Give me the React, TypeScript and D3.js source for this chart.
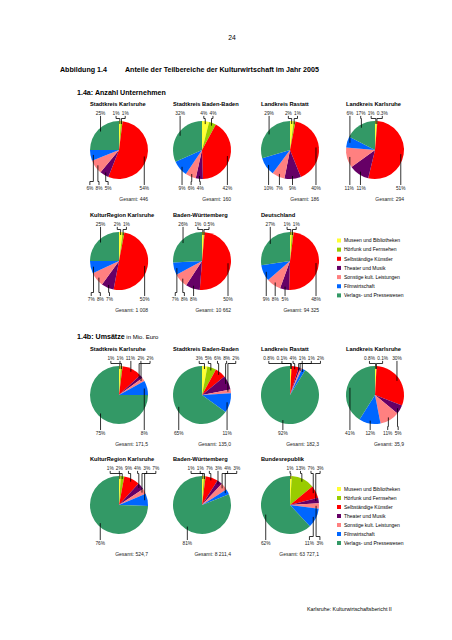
import React from "react";
import * as d3 from "d3";

// ---------- data ----------
const categories = [
  "Museen und Bibliotheken",
  "Hörfunk und Fernsehen",
  "Selbständige Künstler",
  "Theater und Musik",
  "Sonstige kult. Leistungen",
  "Filmwirtschaft",
  "Verlags- und Pressewesen",
];
const categoryColors = ["#FFFF33", "#99CC00", "#FF0000", "#660066", "#FF8080", "#0066FF", "#339966"];

// 1.4a: Anzahl Unternehmen (shares in %, order = categories)
const countRegions = [
  "Stadtkreis Karlsruhe",
  "Stadtkreis Baden-Baden",
  "Landkreis Rastatt",
  "Landkreis Karlsruhe",
  "KulturRegion Karlsruhe",
  "Baden-Württemberg",
  "Deutschland",
];
const countShares = [
  [1, 1, 54, 5, 8, 6, 25],
  [4, 4, 42, 4, 6, 9, 32],
  [2, 1, 40, 9, 7, 10, 29],
  [1, 0.3, 51, 11, 11, 6, 17],
  [2, 1, 50, 7, 8, 7, 25],
  [1, 0.5, 50, 8, 8, 7, 26],
  [1, 1, 48, 5, 8, 9, 27],
];
const countTotals = ["446", "160", "186", "294", "1 008", "10 662", "94 325"];

// 1.4b: Umsätze in Mio. Euro
const salesRegions = [
  "Stadtkreis Karlsruhe",
  "Stadtkreis Baden-Baden",
  "Landkreis Rastatt",
  "Landkreis Karlsruhe",
  "KulturRegion Karlsruhe",
  "Baden-Württemberg",
  "Bundesrepublik",
];
const salesShares = [
  [1, 1, 11, 2, 2, 8, 75],
  [3, 5, 6, 8, 2, 11, 65],
  [0.8, 0.1, 4, 1, 1, 2, 92],
  [0.8, 0.1, 30, 5, 11, 12, 41],
  [1, 2, 9, 4, 3, 7, 76],
  [1, 1, 7, 3, 4, 3, 81],
  [1, 13, 7, 3, 3, 11, 62],
];
const salesTotals = ["171,5", "135,0", "182,3", "35,9", "524,7", "8 211,4", "63 727,1"];

// label placement hints: [chart index, category index] labelled below the pie
const salesLabelsBelow = [
  [0, 5],
  [3, 6],
];

// ---------- layout ----------
const W = 452;
const H = 640;
const R = 29;
const colX = [119, 202, 290, 375];
const countRowsY = [150, 261];
const salesRowsY = [395, 505];
const FONT = "'Liberation Sans', Arial, Helvetica, sans-serif";
const PCT_FS = 4.8;

const charW: Record<string, number> = { ".": 0.278, "%": 0.889 };
function textWidth(t: string, fs: number) {
  let s = 0;
  for (const c of t) s += charW[c] ?? 0.556;
  return s * fs;
}

type Lbl = { i: number; ax: number; ay: number; top: boolean; text: string; w: number; x: number };

function spread(items: Lbl[]) {
  items.sort((a, b) => a.x - b.x);
  for (let it = 0; it < 400; it++) {
    let moved = false;
    for (let k = 0; k < items.length - 1; k++) {
      const a = items[k];
      const b = items[k + 1];
      const need = (a.w + b.w) / 2 + 2.2;
      const d = b.x - a.x;
      if (d < need - 0.01) {
        const s = (need - d) / 2;
        a.x -= s;
        b.x += s;
        moved = true;
      }
    }
    if (!moved) break;
  }
}

function PieChart(props: {
  cx: number;
  cy: number;
  shares: number[];
  title: string;
  total: string;
  below: number[];
}) {
  const { cx, cy, shares, title, total, below } = props;
  const arcs = d3.pie<number>().sort(null).value((d) => d)(shares);
  const arcGen = d3.arc<d3.PieArcDatum<number>>().innerRadius(0).outerRadius(R);

  const labels: Lbl[] = arcs.map((a, i) => {
    const mid = (a.startAngle + a.endAngle) / 2;
    const ax = cx + Math.sin(mid) * R * 0.9;
    const ay = cy - Math.cos(mid) * R * 0.9;
    const top = Math.cos(mid) > 0.11 && !below.includes(i);
    const text = String(shares[i]) + "%";
    return { i, ax, ay, top, text, w: textWidth(text, PCT_FS), x: ax };
  });
  const tops = labels.filter((l) => l.top);
  const bots = labels.filter((l) => !l.top);
  spread(tops);
  spread(bots);

  const topY = cy - R - 6.3;
  const botY = cy + R + 10.5;
  const topElbow = cy - R - 2.5;
  const botElbow = cy + R + 2.5;

  const leader = (l: Lbl) => {
    if (l.top) {
      if (Math.abs(l.x - l.ax) < 0.6) return `M${l.ax},${topY + 1.2}V${l.ay}`;
      return `M${l.x},${topY + 1.2}V${topElbow}H${l.ax}V${l.ay}`;
    }
    if (Math.abs(l.x - l.ax) < 0.6) return `M${l.ax},${botY - 4.5}V${l.ay}`;
    return `M${l.x},${botY - 4.5}V${botElbow}H${l.ax}V${l.ay}`;
  };

  return (
    <g>
      <text x={cx - R} y={cy - R - 15.5} fontSize={5.7} fontWeight="bold" fontFamily={FONT} fill="#000">
        {title}
      </text>
      {arcs.map((a, i) => (
        <path key={i} d={arcGen(a) || ""} transform={`translate(${cx},${cy})`} fill={categoryColors[i]} />
      ))}
      {labels.map((l) => (
        <path key={"l" + l.i} d={leader(l)} fill="none" stroke="#000" strokeWidth={0.8} />
      ))}
      {labels.map((l) => (
        <text
          key={"t" + l.i}
          x={l.x}
          y={l.top ? topY : botY}
          textAnchor="middle"
          fontSize={PCT_FS}
          fontFamily={FONT}
          fill="#222"
        >
          {l.text}
        </text>
      ))}
      <text x={cx + R} y={cy + R + 22} textAnchor="end" fontSize={5} fontFamily={FONT} fill="#222">
        {"Gesamt: " + total}
      </text>
    </g>
  );
}

function Legend(props: { x: number; y0: number; step: number }) {
  const { x, y0, step } = props;
  return (
    <g>
      {categories.map((c, i) => (
        <g key={c}>
          <rect x={x} y={y0 + i * step - 2} width={4} height={4} fill={categoryColors[i]} />
          <text x={x + 7} y={y0 + i * step + 1.8} fontSize={5} fontFamily={FONT} fill="#000">
            {c}
          </text>
        </g>
      ))}
    </g>
  );
}

function positions(rows: number[]) {
  return [
    [colX[0], rows[0]],
    [colX[1], rows[0]],
    [colX[2], rows[0]],
    [colX[3], rows[0]],
    [colX[0], rows[1]],
    [colX[1], rows[1]],
    [colX[2], rows[1]],
  ];
}

export default function App() {
  const cPos = positions(countRowsY);
  const sPos = positions(salesRowsY);
  return (
    <svg
      width={W}
      height={H}
      viewBox={`0 0 ${W} ${H}`}
      style={{ position: "absolute", left: 0, top: 0, background: "#fff" }}
    >
      <rect x={0} y={0} width={W} height={H} fill="#fff" />
      <text x={232} y={40} textAnchor="middle" fontSize={6.8} fontFamily={FONT}>
        24
      </text>
      <text x={60} y={71.5} fontSize={7.1} fontWeight="bold" fontFamily={FONT}>
        Abbildung 1.4
      </text>
      <text x={125} y={71.5} fontSize={7.1} fontWeight="bold" fontFamily={FONT}>
        Anteile der Teilbereiche der Kulturwirtschaft im Jahr 2005
      </text>
      <text x={77} y={94.5} fontSize={7.1} fontWeight="bold" fontFamily={FONT}>
        1.4a: Anzahl Unternehmen
      </text>
      <text x={77} y={338.5} fontFamily={FONT}>
        <tspan fontSize={7.1} fontWeight="bold">
          1.4b: Umsätze
        </tspan>
        <tspan fontSize={6}> in Mio. Euro</tspan>
      </text>

      {countRegions.map((r, k) => (
        <PieChart
          key={"c" + k}
          cx={cPos[k][0]}
          cy={cPos[k][1]}
          shares={countShares[k]}
          title={r}
          total={countTotals[k]}
          below={[]}
        />
      ))}
      {salesRegions.map((r, k) => (
        <PieChart
          key={"s" + k}
          cx={sPos[k][0]}
          cy={sPos[k][1]}
          shares={salesShares[k]}
          title={r}
          total={salesTotals[k]}
          below={salesLabelsBelow.filter((p) => p[0] === k).map((p) => p[1])}
        />
      ))}

      <Legend x={337} y0={240.5} step={9.15} />
      <Legend x={337} y0={489} step={9} />

      <text x={307} y={611} fontSize={5.3} fontFamily={FONT}>
        Karlsruhe: Kulturwirtschaftsbericht II
      </text>
    </svg>
  );
}
